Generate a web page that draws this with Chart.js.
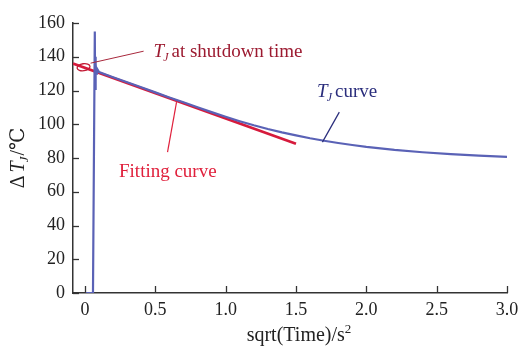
<!DOCTYPE html>
<html>
<head>
<meta charset="utf-8">
<script src="https://cdn.jsdelivr.net/npm/chart.js@4"></script>
<style>
html,body{margin:0;padding:0;background:#fff;}
#wrap{width:521px;height:347px;position:relative;}
</style>
</head>
<body>
<div id="wrap"><canvas id="c" width="521" height="347"></canvas></div>
<script>
// ---- data ----
const tjX = [0, 0.057, 0.07, 0.072, 0.074, 0.076, 0.078, 0.08, 0.085, 0.1, 0.2, 0.3, 0.4, 0.5, 0.6, 0.7, 0.8, 0.9, 1.0, 1.1, 1.2, 1.3, 1.4, 1.5, 1.6, 1.7, 1.8, 1.9, 2.0, 2.2, 2.4, 2.6, 2.8, 3.0];
const tjY = [0, 0, 155, 121, 140, 125, 136, 130, 133, 130.9, 127.9, 124.9, 121.9, 118.9, 115.9, 113.0, 110.1, 107.2, 104.4, 101.8, 99.4, 97.2, 95.2, 93.4, 91.7, 90.2, 88.9, 87.7, 86.6, 84.8, 83.4, 82.3, 81.4, 80.7];
const fitX = [-0.085, 1.5];
const fitY = [136.0, 88.5];
const xTicks = [0, 0.5, 1.0, 1.5, 2.0, 2.5, 3.0];
const xTickLabels = ['0', '0.5', '1.0', '1.5', '2.0', '2.5', '3.0'];
const yTicks = [0, 20, 40, 60, 80, 100, 120, 140, 160];
const xRange = [-0.085, 3.0];
const yRange = [0, 160];
// annotation anchors (data coords)
const shutdownMark = [-0.01, 133.8];
const shutdownLeader = [[0.04, 136.2], [0.417, 143.3]];
const shutdownTextAt = [0.488, 140.0];
const curveLeader = [[1.808, 107.2], [1.688, 89.4]];
const curveTextAt = [1.65, 116.0];
const fitLeader = [[0.587, 83.5], [0.651, 113.1]];
const fitTextAt = [0.242, 68.5];

const SERIF = '"Liberation Serif", "DejaVu Serif", serif';

function drawTJ(ctx, x, y, size, color, rest) {
  ctx.save();
  ctx.fillStyle = color;
  ctx.textBaseline = 'alphabetic';
  ctx.textAlign = 'left';
  ctx.font = 'italic ' + size + 'px ' + SERIF;
  ctx.fillText('T', x, y);
  let w = ctx.measureText('T').width;
  ctx.font = 'italic ' + Math.round(size * 0.65) + 'px ' + SERIF;
  ctx.fillText('J', x + w - 1, y + size * 0.22);
  w += ctx.measureText('J').width;
  ctx.font = size + 'px ' + SERIF;
  ctx.fillText(rest, x + w + 2, y);
  ctx.restore();
}

const deco = {
  id: 'deco',
  afterDraw(chart) {
    const ctx = chart.ctx;
    const xs = chart.scales.x, ys = chart.scales.y;
    const P = (p) => [xs.getPixelForValue(p[0]), ys.getPixelForValue(p[1])];
    ctx.save();
    // inward ticks
    ctx.strokeStyle = '#333';
    ctx.lineWidth = 1.3;
    const y0 = ys.getPixelForValue(0);
    const x0 = xs.left;
    xTicks.forEach(v => {
      const px = Math.round(xs.getPixelForValue(v)) + 0.5;
      ctx.beginPath(); ctx.moveTo(px, y0); ctx.lineTo(px, y0 - 7); ctx.stroke();
    });
    yTicks.forEach(v => {
      const py = Math.round(ys.getPixelForValue(v)) + 0.5;
      ctx.beginPath(); ctx.moveTo(x0, py); ctx.lineTo(x0 + 6, py); ctx.stroke();
    });
    // shutdown ellipse & leader
    const m = P(shutdownMark);
    ctx.strokeStyle = '#c21a34';
    ctx.lineWidth = 1.3;
    ctx.beginPath(); ctx.ellipse(m[0], m[1], 6.5, 3.5, -0.15, 0, Math.PI * 2); ctx.stroke();
    ctx.strokeStyle = '#a8283c';
    ctx.lineWidth = 1;
    let a = P(shutdownLeader[0]), b = P(shutdownLeader[1]);
    ctx.beginPath(); ctx.moveTo(a[0], a[1]); ctx.lineTo(b[0], b[1]); ctx.stroke();
    let t = P(shutdownTextAt);
    drawTJ(ctx, t[0], t[1], 19, '#9c1a30', 'at shutdown time');
    // curve leader
    ctx.strokeStyle = '#2a2d7c';
    ctx.lineWidth = 1.2;
    a = P(curveLeader[0]); b = P(curveLeader[1]);
    ctx.beginPath(); ctx.moveTo(a[0], a[1]); ctx.lineTo(b[0], b[1]); ctx.stroke();
    t = P(curveTextAt);
    drawTJ(ctx, t[0], t[1], 19, '#2a2d7c', 'curve');
    // fitting leader
    ctx.strokeStyle = '#e0203c';
    ctx.lineWidth = 1.2;
    a = P(fitLeader[0]); b = P(fitLeader[1]);
    ctx.beginPath(); ctx.moveTo(a[0], a[1]); ctx.lineTo(b[0], b[1]); ctx.stroke();
    t = P(fitTextAt);
    ctx.fillStyle = '#e0203c';
    ctx.font = '19px ' + SERIF;
    ctx.textAlign = 'left';
    ctx.fillText('Fitting curve', t[0], t[1]);
    // x title
    ctx.fillStyle = '#222';
    ctx.font = '20px ' + SERIF;
    const xt = 'sqrt(Time)/s';
    const wxt = ctx.measureText(xt).width;
    ctx.font = '13px ' + SERIF;
    const wsup = ctx.measureText('2').width;
    const cx = (xs.left + xs.right) / 2 + 9;
    const sx = cx - (wxt + wsup) / 2;
    ctx.font = '20px ' + SERIF;
    ctx.fillText(xt, sx, 341);
    ctx.font = '13px ' + SERIF;
    ctx.fillText('2', sx + wxt, 333);
    // y title (rotated)
    ctx.save();
    ctx.translate(24, 158);
    ctx.rotate(-Math.PI / 2);
    ctx.font = '20px ' + SERIF;
    const p1 = '\u0394', p1w = ctx.measureText(p1).width;
    ctx.font = 'italic 20px ' + SERIF;
    const p2w = ctx.measureText('T').width;
    ctx.font = 'italic 13px ' + SERIF;
    const p3w = ctx.measureText('J').width;
    ctx.font = '20px ' + SERIF;
    const p4 = '/\u2103', p4w = ctx.measureText(p4).width;
    let px = -(p1w + p2w + p3w + p4w + 3) / 2;
    ctx.fillText(p1, px, 0); px += p1w + 3;
    ctx.font = 'italic 20px ' + SERIF; ctx.fillText('T', px, 0); px += p2w - 1;
    ctx.font = 'italic 13px ' + SERIF; ctx.fillText('J', px, 4); px += p3w + 1;
    ctx.font = '20px ' + SERIF; ctx.fillText(p4, px, 0);
    ctx.restore();
    ctx.restore();
  }
};

new Chart(document.getElementById('c'), {
  type: 'line',
  data: {
    datasets: [
      {
        label: 'TJ curve',
        data: tjX.map((x, i) => ({ x: x, y: tjY[i] })),
        borderColor: '#5a62b6',
        borderWidth: 2.2,
        pointRadius: 0,
        tension: 0,
        fill: false
      },
      {
        label: 'Fitting curve',
        data: fitX.map((x, i) => ({ x: x, y: fitY[i] })),
        borderColor: '#d61a3c',
        borderWidth: 2.6,
        pointRadius: 0,
        tension: 0,
        fill: false
      }
    ]
  },
  options: {
    responsive: false,
    animation: false,
    layout: { padding: { top: 23, right: 14, left: 0, bottom: 0 } },
    plugins: { legend: { display: false }, tooltip: { enabled: false } },
    scales: {
      x: {
        type: 'linear',
        min: xRange[0], max: xRange[1],
        afterBuildTicks: (s) => { s.ticks = xTicks.map(v => ({ value: v })); },
        afterFit: (s) => { s.height = 54; s.paddingLeft = 0; s.paddingRight = 0; },
        grid: { drawOnChartArea: false, drawTicks: false },
        border: { display: true, color: '#333', width: 1.5 },
        ticks: {
          padding: 6,
          color: '#222',
          font: { family: SERIF, size: 18 },
          maxRotation: 0,
          autoSkip: false,
          callback: (v) => { const i = xTicks.indexOf(v); return i >= 0 ? xTickLabels[i] : ''; }
        }
      },
      y: {
        type: 'linear',
        min: yRange[0], max: yRange[1],
        afterBuildTicks: (s) => { s.ticks = yTicks.map(v => ({ value: v })); },
        afterFit: (s) => { s.width = 73; s.paddingTop = 0; s.paddingBottom = 0; },
        grid: { drawOnChartArea: false, drawTicks: false },
        border: { display: true, color: '#333', width: 1.5 },
        ticks: {
          padding: 8,
          color: '#222',
          font: { family: SERIF, size: 18 }
        }
      }
    }
  },
  plugins: [deco]
});
</script>
</body>
</html>
